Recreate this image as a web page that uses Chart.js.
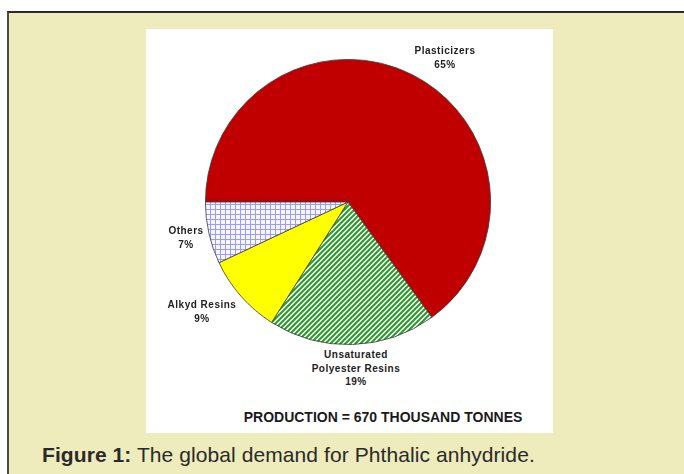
<!DOCTYPE html>
<html>
<head>
<meta charset="utf-8">
<script src="https://cdn.jsdelivr.net/npm/chart.js@4.4.1/dist/chart.umd.min.js"></script>
<style>
  html, body { margin:0; padding:0; width:684px; height:474px; background:#ffffff; overflow:hidden; }
  #frame { position:absolute; left:7px; top:11px; width:677px; height:463px; background:#eeecbd;
           border-left:2px solid #4a4a4a; border-top:2px solid #2a2a2a; box-sizing:border-box; }
  #panel { position:absolute; left:146px; top:29px; width:407px; height:404px; background:#ffffff; }
  #pieBox { position:absolute; left:205px; top:59px; width:286px; height:286px; }
  .lbl { position:absolute; font-family:"Liberation Sans", Arial, sans-serif; font-weight:bold; font-size:10px;
         letter-spacing:0.5px; color:#222; text-align:center; line-height:13.5px; transform:translate(-50%, 0); white-space:nowrap; }
  #prod { position:absolute; left:383px; top:409px; transform:translateX(-50%); font-family:"Liberation Sans", Arial, sans-serif;
          font-weight:bold; font-size:14px; color:#1a1a1a; white-space:nowrap; }
  #caption { position:absolute; left:42px; top:443px; font-family:"Liberation Sans", Arial, sans-serif; font-size:21px; letter-spacing:0.08px; color:#2a2a2a; white-space:nowrap; }
</style>
</head>
<body>
<div id="frame"></div>
<div id="panel"></div>
<div id="pieBox"><canvas id="c" width="286" height="286"></canvas></div>
<div id="labels"></div>
<div id="prod">PRODUCTION = 670 THOUSAND TONNES</div>
<div id="caption"><b>Figure 1:</b> The global demand for Phthalic anhydride.</div>
<script>
// ---- data ----
const categories = ['Plasticizers', 'Unsaturated Polyester Resins', 'Alkyd Resins', 'Others'];
const shares = [65, 19, 9, 7];
const labelLines = [['Plasticizers'], ['Unsaturated', 'Polyester Resins'], ['Alkyd Resins'], ['Others']];
const labelAnchors = [[445, 44], [356, 348], [202, 298], [186, 224]];

function makePattern(kind) {
  const t = document.createElement('canvas');
  const s = 5;
  t.width = s; t.height = s;
  const g = t.getContext('2d');
  g.fillStyle = kind === 'stripes' ? '#ffffff' : '#f6f6ff';
  g.fillRect(0, 0, s, s);
  if (kind === 'stripes') {
    g.strokeStyle = '#2a9a2a';
    g.lineWidth = 2;
    g.beginPath();
    g.moveTo(-1, s + 1); g.lineTo(s + 1, -1);
    g.moveTo(-2, 2); g.lineTo(2, -2);
    g.moveTo(s - 2, s + 2); g.lineTo(s + 2, s - 2);
    g.stroke();
  } else {
    g.fillStyle = '#9a9aff';
    g.fillRect(0, 0, s, 1);
    g.fillRect(0, 0, 1, s);
  }
  const ctx = document.getElementById('c').getContext('2d');
  return ctx.createPattern(t, 'repeat');
}

const colors = ['#c00000', makePattern('stripes'), '#ffff00', makePattern('grid')];

new Chart(document.getElementById('c'), {
  type: 'pie',
  data: {
    labels: categories,
    datasets: [{
      data: shares,
      backgroundColor: colors,
      borderColor: '#3a3a3a',
      borderWidth: 0.8
    }]
  },
  options: {
    responsive: false,
    animation: false,
    rotation: 270,
    layout: { padding: 0 },
    plugins: { legend: { display: false }, tooltip: { enabled: false } }
  }
});

const holder = document.getElementById('labels');
categories.forEach((c, i) => {
  const d = document.createElement('div');
  d.className = 'lbl';
  d.style.left = labelAnchors[i][0] + 'px';
  d.style.top = labelAnchors[i][1] + 'px';
  d.innerHTML = labelLines[i].join('<br>') + '<br>' + shares[i] + '%';
  holder.appendChild(d);
});
</script>
</body>
</html>
